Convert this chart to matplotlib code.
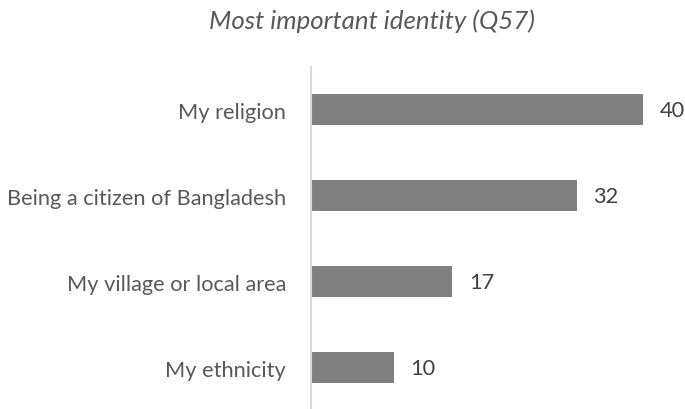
import matplotlib
matplotlib.use("Agg")
import matplotlib.pyplot as plt

categories = ["My religion", "Being a citizen of Bangladesh", "My village or local area", "My ethnicity"]
values = [40, 32, 17, 10]
title = "Most important identity (Q57)"

plt.rcParams['font.family'] = ['Lato', 'DejaVu Sans']

fig = plt.figure(figsize=(6.85, 4.10), dpi=100)
W, H = 685, 410
left, right = 311, 684.5
top, bottom = 67.5, 412
ax = fig.add_axes([left / W, 1 - bottom / H, (right - left) / W, (bottom - top) / H])

y = list(range(len(categories)))
ax.barh(y, values, height=0.36, color='#808080', zorder=2)
ax.set_ylim(len(categories) - 0.5, -0.5)
ax.set_xlim(0, 45)
ax.set_yticks(y)
ax.set_yticklabels(categories, fontsize=15.7, color='#595959')
ax.tick_params(axis='y', length=0, pad=18)
ax.set_xticks([])
for s in ['top', 'right', 'bottom']:
    ax.spines[s].set_visible(False)
ax.spines['left'].set_color('#d9d9d9')
ax.spines['left'].set_linewidth(1.5)

for yi, v in zip(y, values):
    ax.annotate(f"{v}", xy=(v, yi), xytext=(12, 0), textcoords='offset points',
                ha='left', va='center', fontsize=15.7, color='#404040')

fig.text(371.5 / W, 1 - 21 / H, title, ha='center', va='center', fontsize=18.6,
         style='italic', color='#595959')

fig.savefig("out.png", dpi=100)
